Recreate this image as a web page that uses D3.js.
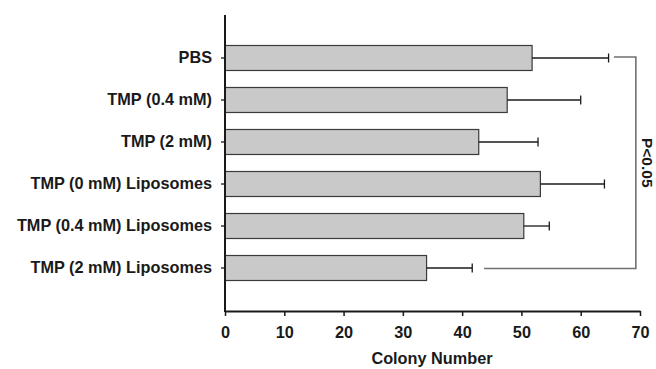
<!DOCTYPE html>
<html><head><meta charset="utf-8">
<script src="https://cdn.jsdelivr.net/npm/d3@7"></script>
<style>body{margin:0;background:#fff}svg{display:block}text{font-family:"Liberation Sans",Arial,sans-serif;font-weight:bold;fill:#1a1a1a}</style>
</head><body>
<svg id="c" width="656" height="369"></svg>
<script>
const categories = ["PBS","TMP (0.4 mM)","TMP (2 mM)","TMP (0 mM) Liposomes","TMP (0.4 mM) Liposomes","TMP (2 mM) Liposomes"];
const means = [51.8, 47.6, 42.8, 53.2, 50.4, 34.0];
const errTops = [64.7, 60.0, 52.8, 64.0, 54.7, 41.7];
const xTicks = [0,10,20,30,40,50,60,70];
const xTitle = "Colony Number";
const sigLabel = "P<0.05";
// bracket: from first to last category, x values (data units)
const bracketTopStart = 65.6, bracketBottomStart = 43.7, bracketX = 69.3;

const svg = d3.select("#c");
const x = d3.scaleLinear().domain([0,70]).range([225,640]);
const y = d3.scaleBand().domain(categories).range([15,311]).paddingInner(0.405).paddingOuter(0.726);

// bars
svg.selectAll("rect.bar").data(categories).join("rect")
  .attr("x", x(0)).attr("y", d=>y(d))
  .attr("width", (d,i)=>x(means[i])-x(0)).attr("height", y.bandwidth())
  .attr("fill","#c9c9c9").attr("stroke","#3a3a3a").attr("stroke-width",1.2);

// error bars
const g = svg.append("g").attr("stroke","#1a1a1a").attr("stroke-width",1.3);
categories.forEach((c,i)=>{
  const cy = y(c)+y.bandwidth()/2;
  g.append("line").attr("x1",x(means[i])).attr("x2",x(errTops[i])).attr("y1",cy).attr("y2",cy);
  g.append("line").attr("x1",x(errTops[i])).attr("x2",x(errTops[i])).attr("y1",cy-4.5).attr("y2",cy+4.5);
});

// bracket
const yTop = y(categories[0])+y.bandwidth()/2 - 1;
const yBot = y(categories[5])+y.bandwidth()/2 + 0.5;
svg.append("path")
  .attr("d", `M${x(bracketTopStart)},${yTop}H${x(bracketX)}V${yBot}H${x(bracketBottomStart)}`)
  .attr("fill","none").attr("stroke","#707070").attr("stroke-width",1.6);
svg.append("text").attr("transform",`translate(${x(bracketX)+6},${(yTop+yBot)/2}) rotate(90)`)
  .attr("text-anchor","middle").attr("font-size",15.5).text(sigLabel);

// axes
const FS = 16.3;
const xAxis = svg.append("g").attr("transform","translate(0,311)")
  .call(d3.axisBottom(x).tickValues(xTicks).tickSize(5).tickPadding(10).tickSizeOuter(0));
xAxis.select(".domain").attr("stroke","#1a1a1a").attr("stroke-width",2);
xAxis.selectAll(".tick line").attr("stroke","#1a1a1a").attr("stroke-width",1.5);
xAxis.selectAll("text").attr("font-size",FS).attr("font-family","Liberation Sans, Arial, sans-serif").attr("font-weight","bold").attr("fill","#1a1a1a");

const yAxis = svg.append("g").attr("transform","translate(225,0)")
  .call(d3.axisLeft(y).tickSize(4).tickPadding(9).tickSizeOuter(0));
yAxis.select(".domain").attr("d","M0,15V312").attr("stroke","#1a1a1a").attr("stroke-width",2);
yAxis.selectAll(".tick line").attr("stroke","#1a1a1a").attr("stroke-width",1.3);
yAxis.selectAll("text").attr("font-size",FS).attr("font-family","Liberation Sans, Arial, sans-serif").attr("font-weight","bold").attr("fill","#1a1a1a");

svg.append("text").attr("x",432).attr("y",363.5).attr("text-anchor","middle").attr("font-size",FS).text(xTitle);
</script>
</body></html>
